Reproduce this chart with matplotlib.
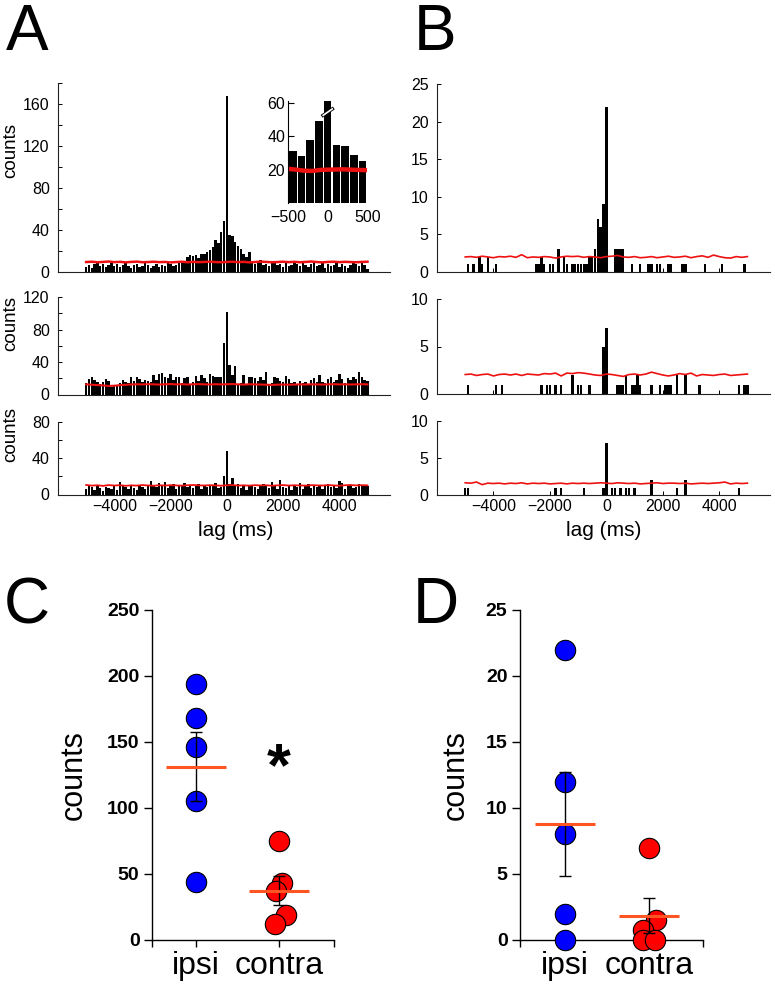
import numpy as np
import matplotlib
matplotlib.use("Agg")
import matplotlib.pyplot as plt
from matplotlib.ticker import MultipleLocator

plt.rcParams['font.family'] = ['Liberation Sans', 'DejaVu Sans']

# ---------------- data ----------------
# Panel A histograms: 101 bins of 100 ms centred on -5000 ... 5000 ms
a_lags = np.arange(-5000, 5001, 100)
a_top = [5, 7, 4, 8, 9, 6, 8, 5, 7, 9, 6, 8, 5, 7, 9, 6, 4, 7, 8, 5, 6, 9, 7, 4, 6,
         8, 5, 7, 6, 9, 8, 6, 7, 10, 9,
         10, 14, 16, 15, 16, 13, 17, 17, 19, 21, 24, 31, 28, 38, 49, 168, 35, 34, 29, 25,
         22, 17, 14, 19, 10,
         8, 9, 11, 7, 8, 6, 9, 10, 7, 8, 5, 9, 6, 7, 10, 8, 6, 9, 7, 5, 8, 10, 6, 7, 9,
         4, 8, 6, 7, 9, 5, 8, 6, 4, 7, 9, 8, 6, 10, 7, 3]
a_mid = [14, 19, 21, 18, 15, 13, 16, 19, 17, 9, 10, 10, 14, 18, 16, 14, 22, 17, 21, 19,
         15, 18, 17, 15, 24, 18, 25, 27, 22, 20, 25, 18, 22, 21, 14, 20, 22, 13, 16, 23,
         17, 24, 20, 15, 25, 23, 21,
         22, 21, 63, 101, 36, 24, 35,
         12, 14, 24, 13, 21, 22, 20, 17, 22, 18, 28, 12, 14, 21, 20, 17, 16, 23, 19, 14,
         16, 13, 17, 14, 16, 12, 18, 20, 15, 24, 16, 14, 19, 22, 16, 18, 25, 19, 14, 20,
         18, 22, 19, 28, 21, 18, 17]
a_bot = [6, 11, 8, 5, 9, 7, 4, 8, 7, 6, 9, 5, 14, 10, 8, 6, 9, 7, 5, 10, 8, 6, 9, 15, 11,
         8, 13, 10, 14, 7, 9, 12, 6, 10, 9, 13, 8, 11, 7, 9, 12, 6, 10, 8, 11, 9, 13, 7, 8,
         20, 48, 12, 18,
         9, 12, 7, 10, 5, 9, 11, 8, 6, 10, 12, 9, 7, 14, 10, 6, 16, 8, 7, 9, 5, 11, 8, 13,
         6, 9, 12, 7, 10, 8, 11, 6, 9, 12, 8, 10, 7, 15, 13, 6, 9, 11, 7, 8, 12, 10, 11, 9]

# shuffled-baseline (red) curves, sampled every 200 ms
red_lags = np.arange(-5000, 5001, 200)
a_top_red = [9.5, 9.8, 9.3, 9.6, 10.0, 9.4, 9.7, 9.2, 9.6, 9.9, 9.3, 9.5, 9.8, 9.4, 9.6,
             9.1, 9.5, 9.8, 9.3, 9.7, 9.4, 9.6, 9.9, 9.5, 9.3, 9.6, 9.8, 9.4, 9.7, 9.2,
             9.5, 9.9, 9.6, 9.3, 9.5, 9.8, 9.4, 9.7, 9.3, 9.6, 10.0, 9.5, 9.2, 9.6, 9.8,
             9.4, 9.7, 9.5, 9.3, 9.6, 9.8]
a_mid_red = [12.5, 12.0, 11.6, 11.2, 10.5, 10.8, 11.5, 12.0, 12.3, 12.6, 12.4, 12.8, 12.5,
             12.2, 12.6, 12.9, 12.4, 12.7, 12.3, 12.6, 12.8, 12.5, 12.3, 12.7, 12.4, 12.6,
             12.9, 12.5, 12.2, 12.6, 12.4, 12.3, 12.0, 11.8, 12.1, 12.3, 12.0, 12.2, 12.5,
             12.3, 12.6, 12.4, 12.2, 12.5, 12.7, 12.4, 12.6, 12.3, 12.5, 12.7, 12.4]
a_bot_red = [10.5, 9.8, 10.2, 9.5, 10.4, 9.9, 10.3, 9.6, 10.1, 9.8, 10.4, 10.0, 9.7, 10.2,
             9.9, 10.3, 10.0, 9.8, 10.2, 10.5, 10.1, 9.9, 10.3, 10.0, 9.7, 10.2, 10.4, 9.9,
             10.1, 9.8, 10.3, 10.0, 10.2, 9.7, 10.1, 10.4, 9.9, 10.2, 10.0, 9.8, 10.3, 10.1,
             9.9, 10.4, 10.0, 9.7, 10.2, 10.5, 10.0, 10.3, 10.1]

# Inset of A (top): zoom on -500..500 ms
inset_bins = np.arange(-4, 5)
inset_counts = [31, 28, 38, 49, 168, 35, 34, 29, 25]
inset_red = [20.5, 20.0, 19.4, 19.2, 19.8, 20.0, 20.1, 20.2, 20.0, 19.8, 19.7]

# Panel B histograms (sparse): lags of non-empty bins and their counts
b_top_lags = [-4900, -4700, -4500, -4400, -4200, -3900, -2500, -2400, -2300, -2200,
              -2000, -1900, -1700, -1500, -1400, -1200, -1100, -1000, -900, -800,
              -700, -600, -500, -400, -300, -200, -100, 0, 300, 400,
              500, 600, 900, 1200, 1500, 1600, 1800, 1900, 2200, 2300,
              2700, 2800, 3500, 4100, 4900]
b_top_counts = [1, 1, 2, 1, 2, 1, 1, 1, 2, 1,
                1, 1, 3, 2, 1, 1, 1, 1, 1, 1,
                1, 2, 2, 3, 7, 6, 9, 22, 3, 3,
                3, 3, 1, 1, 1, 1, 1, 1, 1, 1,
                1, 1, 1, 1, 1]
b_mid_lags = [-4900, -3900, -3700, -2300, -2100, -2000, -1800, -1600, -1200, -1000,
              -900, -600, -100, 0, 400, 500, 600, 700, 900, 1000,
              1100, 1200, 1600, 1900, 2100, 2200, 2300, 2500, 2800, 3300,
              4700, 4900, 5000]
b_mid_counts = [1, 1, 1, 1, 1, 1, 1, 1, 2, 1,
                1, 1, 5, 7, 1, 1, 1, 2, 1, 1,
                2, 1, 1, 1, 1, 1, 1, 2, 2, 1,
                1, 1, 1]
b_bot_lags = [-5000, -4900, -1800, -1600, -800, -100, 0, 200, 300, 500, 700, 800, 1000,
              1600, 2500, 2800, 4700]
b_bot_counts = [1, 1, 1, 1, 1, 1, 7, 1, 1, 1, 1, 1, 1, 2, 1, 2, 1]

b_top_red = [2.0, 2.05, 1.95, 2.1, 2.0, 1.9, 2.05, 2.0, 2.1, 1.95, 2.3, 1.9, 2.0, 1.95,
             2.05, 2.0, 1.85, 2.0, 2.1, 2.05, 2.1, 1.95, 2.05, 2.0, 1.9, 2.05, 2.1, 2.2,
             2.0, 1.95, 2.05, 1.9, 1.95, 2.05, 1.9, 2.0, 2.1, 1.95, 2.0, 2.1, 1.9, 2.05,
             2.15, 1.95, 2.25, 2.05, 1.9, 1.85, 2.05, 1.95, 2.05]
b_mid_red = [2.05, 2.1, 1.95, 2.05, 2.1, 1.9, 2.05, 2.1, 2.0, 2.1, 1.95, 2.1, 2.05, 2.0,
             2.15, 2.1, 2.2, 1.9, 2.2, 2.15, 2.25, 2.2, 2.1, 2.0, 1.95, 2.1, 2.05, 1.95,
             1.85, 2.05, 2.1, 2.0, 2.1, 2.3, 2.15, 2.0, 1.9, 2.0, 2.15, 2.05, 2.2, 1.9,
             2.05, 2.0, 1.95, 2.05, 2.1, 1.95, 2.0, 2.05, 2.1]
b_bot_red = [1.65, 1.6, 1.75, 1.4, 1.6, 1.55, 1.6, 1.5, 1.6, 1.55, 1.65, 1.5, 1.6, 1.55,
             1.6, 1.5, 1.55, 1.6, 1.5, 1.6, 1.55, 1.6, 1.55, 1.6, 1.65, 1.6, 1.55, 1.65,
             1.6, 1.55, 1.6, 1.5, 1.55, 1.6, 1.65, 1.55, 1.6, 1.6, 1.55, 1.6, 1.5, 1.55,
             1.6, 1.55, 1.6, 1.65, 1.75, 1.5, 1.6, 1.55, 1.6]

# Panels C and D: peak counts per pair
groups = ['ipsi', 'contra']
c_ipsi = [194, 168, 146, 105, 44]
c_contra = [75, 43, 37, 19, 12]
c_contra_dx = [0.0, 0.04, -0.04, 0.08, -0.05]
d_ipsi = [22, 12, 8, 2, 0]
d_contra = [7, 1.5, 0.75, 0, 0]
d_contra_dx = [0.0, 0.08, -0.07, -0.07, 0.07]

# ---------------- figure ----------------
W, H = 775, 985
fig = plt.figure(figsize=(W / 100, H / 100), dpi=100)


def px_axes(l, t, r, b):
    return fig.add_axes([l / W, 1 - b / H, (r - l) / W, (b - t) / H])


RED = '#ee1111'
TICKFS = 11.5


def style_hist(ax, ymax, major, minor, show_x):
    ax.set_xlim(-6000, 5800)
    ax.set_ylim(0, ymax)
    for s in ['top', 'right']:
        ax.spines[s].set_visible(False)
    for s in ['left', 'bottom']:
        ax.spines[s].set_linewidth(0.8)
        ax.spines[s].set_color('#222222')
    ax.yaxis.set_major_locator(MultipleLocator(major))
    if minor:
        ax.yaxis.set_minor_locator(MultipleLocator(minor))
    ax.tick_params(axis='y', which='both', direction='in', length=3, width=0.7,
                   labelsize=TICKFS, pad=6)
    ax.set_xticks([-4000, -2000, 0, 2000, 4000])
    ax.tick_params(axis='x', direction='in', length=3, width=0.7, labelsize=TICKFS,
                   pad=3, labelbottom=show_x)


# Panel A
axA1 = px_axes(58, 83.3, 390, 272)
axA1.bar(a_lags, a_top, width=85, color='black', linewidth=0)
axA1.plot(red_lags, a_top_red, color=RED, lw=1.8)
style_hist(axA1, 180, 40, 20, False)
axA1.set_yticks([0, 40, 80, 120, 160])

axA2 = px_axes(58, 297, 390, 394.5)
axA2.bar(a_lags, a_mid, width=85, color='black', linewidth=0)
axA2.plot(red_lags, a_mid_red, color=RED, lw=1.5)
style_hist(axA2, 120, 40, 20, False)

axA3 = px_axes(58, 422, 390, 494.5)
axA3.bar(a_lags, a_bot, width=85, color='black', linewidth=0)
axA3.plot(red_lags, a_bot_red, color=RED, lw=1.3)
style_hist(axA3, 80, 40, 20, True)

# Inset
ins_w = 110
inset_x = inset_bins * ins_w
axI = px_axes(288, 101.3, 369, 203)
axI.bar(inset_x, inset_counts, width=ins_w * 0.86, color='black', linewidth=0)
red_x = np.linspace(inset_x[0] - ins_w / 2, inset_x[-1] + ins_w / 2, len(inset_red))
axI.plot(red_x, inset_red, color=RED, lw=3.2, solid_capstyle='butt')
axI.set_xlim(inset_x[0] - ins_w / 2, inset_x[-1] + ins_w / 2 + 25)
axI.set_ylim(0, 61)
peak_i = int(np.argmax(inset_counts))
px0 = inset_x[peak_i] - 0.7 * ins_w
px1 = inset_x[peak_i] + 0.7 * ins_w
axI.plot([px0, px1], [52, 57], color='black', lw=2.4, clip_on=False, zorder=5,
         solid_capstyle='butt')
axI.plot([px0 + 0.1 * ins_w, px1 - 0.1 * ins_w], [52.3, 56.7], color='white', lw=1.2,
         clip_on=False, zorder=6, solid_capstyle='butt')
for s in ['top', 'right', 'bottom']:
    axI.spines[s].set_visible(False)
axI.spines['left'].set_linewidth(0.8)
axI.set_yticks([20, 40, 60])
axI.set_xticks([-500, 0, 500])
axI.tick_params(axis='y', direction='in', length=4, width=0.8, labelsize=TICKFS, pad=2)
axI.tick_params(axis='x', length=0, labelsize=TICKFS, pad=5)

# Panel B
axB1 = px_axes(437, 84, 770, 272)
axB1.bar(b_top_lags, b_top_counts, width=85, color='black', linewidth=0)
axB1.plot(red_lags, b_top_red, color=RED, lw=1.2)
style_hist(axB1, 25, 5, None, False)

axB2 = px_axes(437, 299, 770, 394)
axB2.bar(b_mid_lags, b_mid_counts, width=85, color='black', linewidth=0)
axB2.plot(red_lags, b_mid_red, color=RED, lw=1.2)
style_hist(axB2, 10, 5, None, False)

axB3 = px_axes(437, 421, 770, 495)
axB3.bar(b_bot_lags, b_bot_counts, width=85, color='black', linewidth=0)
axB3.plot(red_lags, b_bot_red, color=RED, lw=1.2)
style_hist(axB3, 10, 5, None, True)

for y in [150, 324, 435]:
    fig.text(11 / W, 1 - y / H, 'counts', rotation=90, ha='center', va='center',
             fontsize=13.5)
fig.text(236 / W, 1 - 531 / H, 'lag (ms)', ha='center', va='center', fontsize=15)
fig.text(604 / W, 1 - 531 / H, 'lag (ms)', ha='center', va='center', fontsize=15)

# Panels C and D
BLUE = '#0000ff'
CRED = '#ff0000'
MEAN = '#ff5522'


def dot_panel(ax, ipsi, contra, contra_dx, ymax, ystep, xl):
    xs = [1, 2]
    ax.scatter(np.full(len(ipsi), xs[0]), ipsi, s=215, c=BLUE, edgecolors='black',
               linewidths=0.8, zorder=3, clip_on=False)
    ax.scatter(xs[1] + np.array(contra_dx), contra, s=215, c=CRED,
               edgecolors='black', linewidths=0.8, zorder=3, clip_on=False)
    for x, vals in zip(xs, [ipsi, contra]):
        v = np.array(vals, dtype=float)
        m = v.mean()
        sem = v.std(ddof=1) / np.sqrt(len(v))
        ax.errorbar(x, m, yerr=sem, fmt='none', ecolor='black', elinewidth=1.0,
                    capsize=4, capthick=1.0, zorder=4)
        ax.plot([x - 0.36, x + 0.36], [m, m], color=MEAN, lw=2.2, zorder=5,
                solid_capstyle='butt')
    ax.set_xlim(*xl)
    ax.set_ylim(0, ymax)
    for s in ['top', 'right']:
        ax.spines[s].set_visible(False)
    for s in ['left', 'bottom']:
        ax.spines[s].set_linewidth(1.0)
    ax.set_yticks(np.arange(0, ymax + 0.1, ystep))
    ax.set_xticks([xl[0], 1, 2, xl[1]])
    ax.set_xticklabels(['', groups[0], groups[1], ''])
    ax.tick_params(axis='y', direction='out', length=6, width=1.0, labelsize=14, pad=3)
    ax.tick_params(axis='x', direction='out', length=5, width=1.0, labelsize=23, pad=3)
    for lbl in ax.get_yticklabels():
        lbl.set_fontweight('bold')


axC = px_axes(152, 610, 334, 940)
dot_panel(axC, c_ipsi, c_contra, c_contra_dx, 250, 50, (0.47, 2.66))
axC.text(2, 117, '*', ha='center', va='baseline', fontsize=44, fontweight='bold')

axD = px_axes(520, 610, 703, 940)
dot_panel(axD, d_ipsi, d_contra, d_contra_dx, 25, 5, (0.464, 2.64))

fig.text(74 / W, 1 - 775 / H, 'counts', rotation=90, ha='center', va='center',
         fontsize=22)
fig.text(456 / W, 1 - 775 / H, 'counts', rotation=90, ha='center', va='center',
         fontsize=22)

# panel letters
for letter, x, yb in [('A', 6, 50), ('B', 414, 50), ('C', 4, 623), ('D', 413, 623)]:
    fig.text(x / W, 1 - yb / H, letter, ha='left', va='baseline', fontsize=46)

fig.savefig('out.png', dpi=100)
